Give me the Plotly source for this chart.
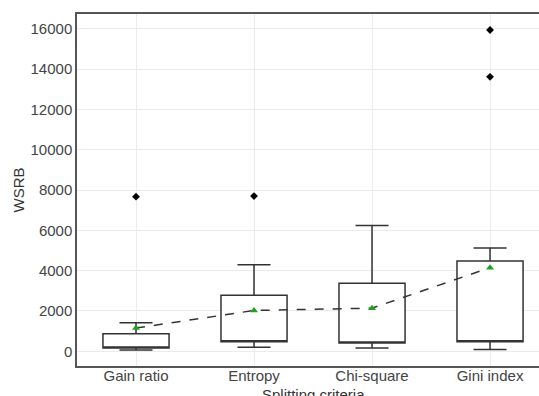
import plotly.graph_objects as go

categories = ["Gain ratio", "Entropy", "Chi-square", "Gini index"]
q1 = [163, 479, 410, 479]
q3 = [874, 2780, 3373, 4479]
lower_whisker = [64, 198, 163, 84]
upper_whisker = [1415, 4296, 6237, 5120]
means = [1151, 2025, 2140, 4148]
outlier_cats = ["Gain ratio", "Entropy", "Gini index", "Gini index"]
outlier_vals = [7670, 7700, 15936, 13614]
y_ticks = [0, 2000, 4000, 6000, 8000, 10000, 12000, 14000, 16000]

fig = go.Figure()
fig.add_trace(go.Box(
    x=categories, q1=q1, median=q1, q3=q3,
    lowerfence=lower_whisker, upperfence=upper_whisker,
    fillcolor="white", line=dict(color="#333333", width=1.5),
    whiskerwidth=0.5, boxpoints=False, showlegend=False, hoverinfo="skip",
))
fig.add_trace(go.Scatter(
    x=outlier_cats, y=outlier_vals, mode="markers",
    marker=dict(symbol="diamond", size=6, color="black"), showlegend=False,
))
fig.add_trace(go.Scatter(
    x=categories, y=means, mode="lines+markers",
    line=dict(color="#333333", width=1.5, dash="dash"),
    marker=dict(symbol="triangle-up", size=7, color="#22a022"), showlegend=False,
))

fig.update_layout(
    width=539, height=396,
    margin=dict(l=77, r=0, t=14, b=30),
    paper_bgcolor="white", plot_bgcolor="white",
    font=dict(family="Liberation Sans, Arial, sans-serif", size=15, color="#444444"),
    boxgap=0.2,
    xaxis=dict(
        type="category", range=[-0.5, 3.415], automargin=False,
        showgrid=True, gridcolor="#ebebeb", gridwidth=1,
        showline=True, linecolor="#555555", linewidth=1.5, mirror=True,
        ticks="", ticklabelstandoff=-5,
        tickfont=dict(size=15, color="#444444"),
    ),
    yaxis=dict(
        range=[-730, 16730], tickvals=y_ticks, ticktext=[str(v) for v in y_ticks],
        automargin=False,
        showgrid=True, gridcolor="#ebebeb", gridwidth=1, zeroline=False,
        showline=True, linecolor="#555555", linewidth=1.5, mirror=True,
        ticks="", ticklabelstandoff=0,
        title=dict(text="WSRB", font=dict(size=15, color="#333333"), standoff=2),
        tickfont=dict(size=15, color="#444444"),
    ),
    annotations=[dict(
        text="Splitting criteria", xref="paper", yref="paper",
        x=0.511, y=0, xanchor="center", yanchor="top", yshift=-18,
        showarrow=False, font=dict(size=15, color="#333333"),
    )],
)

fig.write_html(
    "out.html",
    config={"displayModeBar": False},
    post_script="document.body.style.margin='0';document.body.style.overflow='hidden';",
)
